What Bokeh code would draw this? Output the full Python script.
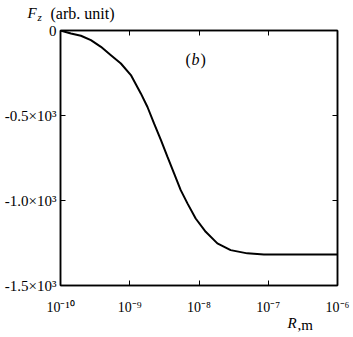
from bokeh.plotting import figure
from bokeh.models import LogAxis, LinearAxis, Label, Title, CustomJSTickFormatter, FixedTicker, Range1d
from bokeh.embed import file_html
from bokeh.resources import INLINE

# data
R_m = [1e-10, 1.416e-10, 1.972e-10, 2.748e-10, 3.837e-10, 5.346e-10, 7.447e-10,
       1.038e-9, 1.445e-9, 1.803e-9, 2.249e-9, 2.831e-9, 3.508e-9, 4.365e-9,
       5.445e-9, 6.808e-9, 8.954e-9, 1.250e-8, 1.841e-8, 2.864e-8, 4.977e-8,
       8.650e-8, 1.503e-7, 1e-6]
Fz = [0, -18, -31, -57, -96, -145, -194, -262, -370, -450, -548, -646, -744,
      -841, -939, -1017, -1106, -1184, -1252, -1292, -1311, -1317, -1317, -1317]

x_ticks = [1e-10, 1e-9, 1e-8, 1e-7, 1e-6]
x_tick_labels = ["10\u207b\u00b9\u2070", "10\u207b\u2079", "10\u207b\u2078", "10\u207b\u2077", "10\u207b\u2076"]
y_ticks = [0, -500, -1000, -1500]
y_tick_labels = ["0", "-0.5\u00d710\u00b3", "-1.0\u00d710\u00b3", "-1.5\u00d710\u00b3"]

FONT = "Liberation Serif"

p = figure(width=350, height=335, x_axis_type="log",
           x_range=Range1d(1e-10, 1e-6), y_range=Range1d(-1500, 0),
           output_backend="svg", toolbar_location=None,
           min_border_left=60, min_border_right=13, min_border_top=30, min_border_bottom=50)
p.grid.visible = False
p.outline_line_color = "black"
p.outline_line_width = 1.5
p.background_fill_color = "white"
p.border_fill_color = "white"

xfmt = CustomJSTickFormatter(args=dict(tv=x_ticks, tl=x_tick_labels), code="""
for (let i = 0; i < tv.length; i++) {
  if (Math.abs(Math.log10(tick) - Math.log10(tv[i])) < 1e-6) return tl[i];
}
return "";
""")
yfmt = CustomJSTickFormatter(args=dict(tv=y_ticks, tl=y_tick_labels), code="""
for (let i = 0; i < tv.length; i++) {
  if (Math.abs(tick - tv[i]) < 1e-6) return tl[i];
}
return "";
""")
blank = CustomJSTickFormatter(code="return '';")

def style(ax, size="14px", show_labels=True):
    ax.major_tick_in = 5
    ax.major_tick_out = 0
    ax.minor_tick_line_color = None
    ax.axis_line_color = "black"
    ax.axis_line_width = 1.5
    ax.major_tick_line_color = "black"
    ax.major_tick_line_width = 1
    ax.major_label_text_font = FONT
    ax.major_label_text_font_size = size
    ax.major_label_text_color = "black"
    if not show_labels:
        ax.major_label_text_font_size = "0px"
        ax.major_label_standoff = 0

xa = p.xaxis[0]
xa.ticker = FixedTicker(ticks=x_ticks)
xa.formatter = xfmt
style(xa, "14px")
xa.major_label_standoff = 14
ya = p.yaxis[0]
ya.ticker = FixedTicker(ticks=y_ticks)
ya.formatter = yfmt
style(ya, "15px")
ya.major_label_standoff = 4

top = LogAxis(ticker=FixedTicker(ticks=x_ticks), formatter=blank)
style(top, show_labels=False)
right = LinearAxis(ticker=FixedTicker(ticks=y_ticks), formatter=blank)
style(right, show_labels=False)
p.add_layout(right, "right")

p.line(R_m, Fz, line_color="black", line_width=2)

def title(text, offset, standoff, size="15px", style_="normal", valign="bottom"):
    return Title(text=text, align="left", offset=offset, standoff=standoff,
                 vertical_align=valign,
                 text_font=FONT, text_font_size=size, text_font_style=style_,
                 text_color="black")

# y-axis name at top-left (panels listed from the frame outwards)
t_z = title("z", -23, 12.2, "11px", "italic", "top")
t_F = title("F", -33, -33.4, "15px", "italic")
t_arb = title("(arb. unit)", -10, -35.4, "16px")
p.above = [top, t_z, t_F, t_arb]
# x-axis name at bottom-right
t_R = title("R", 227, -26, "15px", "italic")
t_m = title(",m", 237, -30, "15px")
p.add_layout(t_R, "below")
p.add_layout(t_m, "below")

# panel tag
def lab(text, x, y, size="16px", style_="normal"):
    p.add_layout(Label(x=x, y=y, x_units="canvas", y_units="canvas", text=text,
                       text_font=FONT, text_font_size=size, text_font_style=style_,
                       text_color="black", text_baseline="alphabetic"))
lab("(", 185, 59)
lab("b", 191, 59, "16px", "italic")
lab(")", 200, 59)

open("out.html", "w").write(file_html(p, INLINE))
